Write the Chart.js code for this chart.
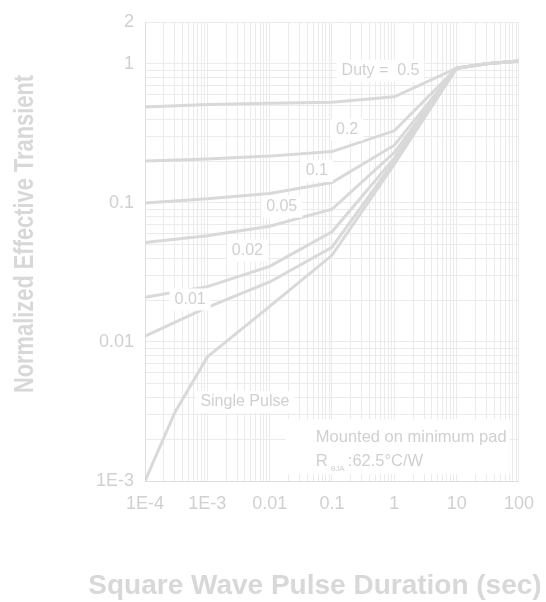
<!DOCTYPE html>
<html>
<head>
<meta charset="utf-8">
<script src="https://cdn.jsdelivr.net/npm/chart.js@4.4.1/dist/chart.umd.min.js"></script>
<style>
  html, body { margin: 0; padding: 0; background: #ffffff; }
  #wrap { width: 546px; height: 602px; }
</style>
</head>
<body>
<div id="wrap"><canvas id="zth-chart" width="546" height="602"></canvas></div>
<script>
// pulse widths in seconds (x axis)
const pulseTimes = [1e-4, 1e-3, 0.01, 0.1, 1, 10, 30, 100];
const singleTimes = [1e-4, 3e-4, 1e-3, 0.01, 0.1, 1, 10, 30, 100];

// normalized effective transient impedance, one array per duty cycle
const duty05 = [0.49, 0.51, 0.52, 0.53, 0.58, 0.93, 1.0, 1.05];
const duty02 = [0.2, 0.207, 0.217, 0.234, 0.33, 0.93, 1.0, 1.05];
const duty01 = [0.1, 0.107, 0.117, 0.14, 0.26, 0.93, 1.0, 1.05];
const duty005 = [0.052, 0.058, 0.068, 0.09, 0.23, 0.93, 1.0, 1.05];
const duty002 = [0.021, 0.025, 0.035, 0.062, 0.21, 0.93, 1.0, 1.05];
const duty001 = [0.011, 0.0177, 0.027, 0.048, 0.2, 0.93, 1.0, 1.05];
const singlePulse = [0.001, 0.0031, 0.0078, 0.018, 0.042, 0.19, 0.93, 1.0, 1.05];

// curve labels and where they sit (data units)
const curveLabels = ['Duty =  0.5', '0.2', '0.1', '0.05', '0.02', '0.01', 'Single Pulse'];
const labelTimes = [0.6, 0.175, 0.057, 0.0156, 0.0044, 5.3e-4, 0.004];
const labelValues = [0.89, 0.336, 0.17, 0.094, 0.0454, 0.0202, 0.0037];

const xTickValues = [1e-4, 1e-3, 0.01, 0.1, 1, 10, 100];
const xTickLabels = ['1E-4', '1E-3', '0.01', '0.1', '1', '10', '100'];
const yTickValues = [1e-3, 0.01, 0.1, 1, 2];
const yTickLabels = ['1E-3', '0.01', '0.1', '1', '2'];

const CURVE = '#d9d9d9';
const GRID = '#ebebeb';
const TEXT = '#d0d0d0';
const TITLE = '#d8d8d8';
const FONT = '"Liberation Sans", Arial, sans-serif';

const toPoints = (xs, ys) => xs.map((x, i) => ({ x: x, y: ys[i] }));

const lineSet = (label, xs, ys) => ({
    label: label,
    data: toPoints(xs, ys),
    borderColor: CURVE,
    borderWidth: 3,
    pointRadius: 0,
    tension: 0,
    fill: false
});

// 1..9 per decade, used for the log grid
const logGrid = (fromExp, toExp) => {
    const out = [];
    for (let e = fromExp; e < toExp; e++) {
        for (let m = 1; m < 10; m++) out.push({ value: m * Math.pow(10, e) });
    }
    return out;
};

const findLabel = (values, labels, v) => {
    const i = values.findIndex(t => Math.abs(Math.log10(t) - Math.log10(v)) < 1e-6);
    return i >= 0 ? labels[i] : '';
};

// white boxed labels on top of the curves
const curveNotes = {
    id: 'curveNotes',
    afterDatasetsDraw(chart) {
        const { ctx, scales } = chart;
        ctx.save();
        ctx.font = '16px ' + FONT;
        ctx.textAlign = 'center';
        ctx.textBaseline = 'middle';
        curveLabels.forEach((text, i) => {
            const x = scales.x.getPixelForValue(labelTimes[i]);
            const y = scales.y.getPixelForValue(labelValues[i]);
            const w = ctx.measureText(text).width;
            ctx.fillStyle = '#ffffff';
            ctx.fillRect(x - w / 2 - 5, y - 11, w + 10, 22);
            ctx.fillStyle = TEXT;
            ctx.fillText(text, x, y);
        });

        // mounting note, bottom right
        const nx = scales.x.getPixelForValue(0.055);
        const ny = scales.y.getPixelForValue(0.0021);
        ctx.fillStyle = '#ffffff';
        ctx.fillRect(nx - 30, ny - 17, 224, 55);
        ctx.fillStyle = TEXT;
        ctx.textAlign = 'left';
        ctx.textBaseline = 'alphabetic';
        ctx.font = '16.5px ' + FONT;
        ctx.fillText('Mounted on minimum pad', nx, ny + 6);
        ctx.fillText('R', nx, ny + 30);
        ctx.font = '8px ' + FONT;
        ctx.fillText('\u03B8JA', nx + 15, ny + 35);
        ctx.font = '16.5px ' + FONT;
        ctx.fillText(':62.5\u00B0C/W', nx + 32, ny + 30);
        ctx.restore();
    }
};

const axisTitles = {
    id: 'axisTitles',
    afterDraw(chart) {
        const ctx = chart.ctx;
        ctx.save();
        ctx.fillStyle = TITLE;
        ctx.font = 'bold 28px ' + FONT;
        ctx.textAlign = 'center';
        ctx.textBaseline = 'alphabetic';
        ctx.fillText('Square Wave Pulse Duration (sec)', 315, 594);
        ctx.translate(33, 234);
        ctx.rotate(-Math.PI / 2);
        ctx.scale(0.78, 1);
        ctx.fillText('Normalized Effective Transient', 0, 0);
        ctx.restore();
    }
};

const ctx = document.getElementById('zth-chart').getContext('2d');

new Chart(ctx, {
    type: 'line',
    data: {
        datasets: [
            lineSet('0.5', pulseTimes, duty05),
            lineSet('0.2', pulseTimes, duty02),
            lineSet('0.1', pulseTimes, duty01),
            lineSet('0.05', pulseTimes, duty005),
            lineSet('0.02', pulseTimes, duty002),
            lineSet('0.01', pulseTimes, duty001),
            lineSet('Single Pulse', singleTimes, singlePulse)
        ]
    },
    options: {
        responsive: false,
        animation: false,
        devicePixelRatio: 1,
        layout: { padding: { top: 22, right: 18, left: 0, bottom: 0 } },
        plugins: {
            legend: { display: false },
            tooltip: { enabled: false }
        },
        scales: {
            x: {
                type: 'logarithmic',
                min: 1e-4,
                max: 100,
                grid: { color: GRID, lineWidth: 1, drawTicks: false },
                border: { color: '#dedede' },
                ticks: {
                    color: TEXT,
                    font: { size: 18, family: FONT },
                    padding: 12,
                    autoSkip: false,
                    maxRotation: 0,
                    callback: (v) => findLabel(xTickValues, xTickLabels, v)
                },
                afterBuildTicks: (scale) => {
                    scale.ticks = logGrid(-4, 2).concat([{ value: 100 }]);
                },
                afterFit: (scale) => { scale.height = 121; }
            },
            y: {
                type: 'logarithmic',
                min: 1e-3,
                max: 2,
                grid: { color: GRID, lineWidth: 1, drawTicks: false },
                border: { color: '#dedede' },
                ticks: {
                    color: TEXT,
                    font: { size: 18, family: FONT },
                    padding: 11,
                    autoSkip: false,
                    callback: (v) => findLabel(yTickValues, yTickLabels, v)
                },
                afterBuildTicks: (scale) => {
                    scale.ticks = logGrid(-3, 0).concat([{ value: 1 }, { value: 2 }]);
                },
                afterFit: (scale) => { scale.width = 145; }
            }
        }
    },
    plugins: [curveNotes, axisTitles]
});
</script>
</body>
</html>
